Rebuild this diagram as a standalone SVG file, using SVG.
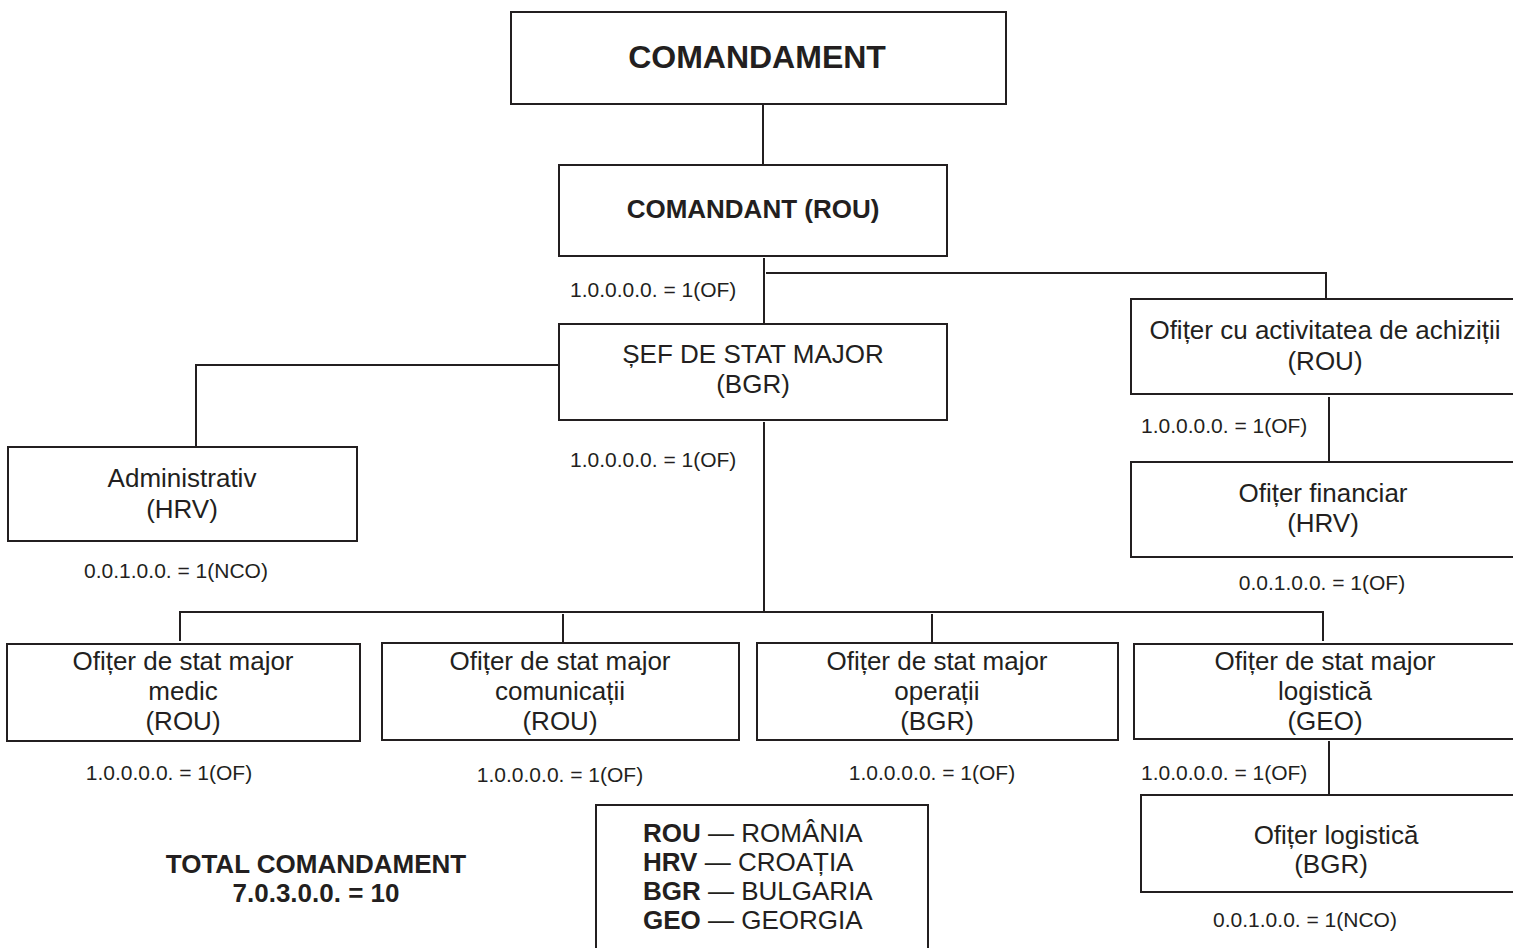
<svg xmlns="http://www.w3.org/2000/svg" width="1513" height="948" viewBox="0 0 1513 948">
<style>
.box{fill:#fff;stroke:#231f20;stroke-width:2}
.ln{fill:none;stroke:#231f20;stroke-width:2}
text{font-family:"Liberation Sans",Arial,sans-serif;fill:#231f20}
.t{font-size:26px;text-anchor:middle}
.b{font-weight:bold}
.l{font-size:21px}
.c{text-anchor:middle}
</style>
<rect width="1513" height="948" fill="#fff"/>
<g id="connectors">
<path class="ln" d="M763 104V165"/>
<path class="ln" d="M764 258V324"/>
<path class="ln" d="M766 273H1326V299"/>
<path class="ln" d="M559 365H196V447"/>
<path class="ln" d="M764 422V612"/>
<path class="ln" d="M180 641V612H1323V641"/>
<path class="ln" d="M563 614V643"/>
<path class="ln" d="M932 614V643"/>
<path class="ln" d="M1329 397V462"/>
<path class="ln" d="M1329 741V795"/>
</g>
<g id="comandament">
<rect class="box" x="511" y="12" width="495" height="92"/>
<text class="t b" x="757" y="68" style="font-size:32px">COMANDAMENT</text>
</g>
<g id="comandant">
<rect class="box" x="559" y="165" width="388" height="91"/>
<text class="t b" x="753" y="218">COMANDANT (ROU)</text>
<text class="l" x="570" y="297">1.0.0.0.0. = 1(OF)</text>
</g>
<g id="sef">
<rect class="box" x="559" y="324" width="388" height="96"/>
<text class="t" x="753" y="363">ȘEF DE STAT MAJOR</text>
<text class="t" x="753" y="393">(BGR)</text>
<text class="l" x="570" y="467">1.0.0.0.0. = 1(OF)</text>
</g>
<g id="administrativ">
<rect class="box" x="8" y="447" width="349" height="94"/>
<text class="t" x="182" y="487">Administrativ</text>
<text class="t" x="182" y="518">(HRV)</text>
<text class="l c" x="176" y="578">0.0.1.0.0. = 1(NCO)</text>
</g>
<g id="achizitii">
<rect class="box" x="1131" y="299" width="390" height="95"/>
<text class="t" x="1325" y="339">Ofițer cu activitatea de achiziții</text>
<text class="t" x="1325" y="370">(ROU)</text>
<text class="l" x="1141" y="433">1.0.0.0.0. = 1(OF)</text>
</g>
<g id="financiar">
<rect class="box" x="1131" y="462" width="390" height="95"/>
<text class="t" x="1323" y="502">Ofițer financiar</text>
<text class="t" x="1323" y="532">(HRV)</text>
<text class="l c" x="1322" y="590">0.0.1.0.0. = 1(OF)</text>
</g>
<g id="medic">
<rect class="box" x="7" y="644" width="353" height="97"/>
<text class="t" x="183" y="670">Ofițer de stat major</text>
<text class="t" x="183" y="700">medic</text>
<text class="t" x="183" y="730">(ROU)</text>
<text class="l c" x="169" y="780">1.0.0.0.0. = 1(OF)</text>
</g>
<g id="comunicatii">
<rect class="box" x="382" y="643" width="357" height="97"/>
<text class="t" x="560" y="670">Ofițer de stat major</text>
<text class="t" x="560" y="700">comunicații</text>
<text class="t" x="560" y="730">(ROU)</text>
<text class="l c" x="560" y="782">1.0.0.0.0. = 1(OF)</text>
</g>
<g id="operatii">
<rect class="box" x="757" y="643" width="361" height="97"/>
<text class="t" x="937" y="670">Ofițer de stat major</text>
<text class="t" x="937" y="700">operații</text>
<text class="t" x="937" y="730">(BGR)</text>
<text class="l c" x="932" y="780">1.0.0.0.0. = 1(OF)</text>
</g>
<g id="logistica-geo">
<rect class="box" x="1134" y="644" width="390" height="95"/>
<text class="t" x="1325" y="670">Ofițer de stat major</text>
<text class="t" x="1325" y="700">logistică</text>
<text class="t" x="1325" y="730">(GEO)</text>
<text class="l" x="1141" y="780">1.0.0.0.0. = 1(OF)</text>
</g>
<g id="logistica-bgr">
<rect class="box" x="1141" y="795" width="380" height="97"/>
<text class="t" x="1336" y="844">Ofițer logistică</text>
<text class="t" x="1331" y="873">(BGR)</text>
<text class="l c" x="1305" y="927">0.0.1.0.0. = 1(NCO)</text>
</g>
<g id="total">
<text class="t b" x="316" y="873">TOTAL COMANDAMENT</text>
<text class="t b" x="316" y="902">7.0.3.0.0. = 10</text>
</g>
<g id="legend">
<rect class="box" x="596" y="805" width="332" height="150"/>
<text style="font-size:26px" x="643" y="842"><tspan class="b">ROU</tspan> — ROMÂNIA</text>
<text style="font-size:26px" x="643" y="871"><tspan class="b">HRV</tspan> — CROAȚIA</text>
<text style="font-size:26px" x="643" y="900"><tspan class="b">BGR</tspan> — BULGARIA</text>
<text style="font-size:26px" x="643" y="929"><tspan class="b">GEO</tspan> — GEORGIA</text>
</g>
</svg>
